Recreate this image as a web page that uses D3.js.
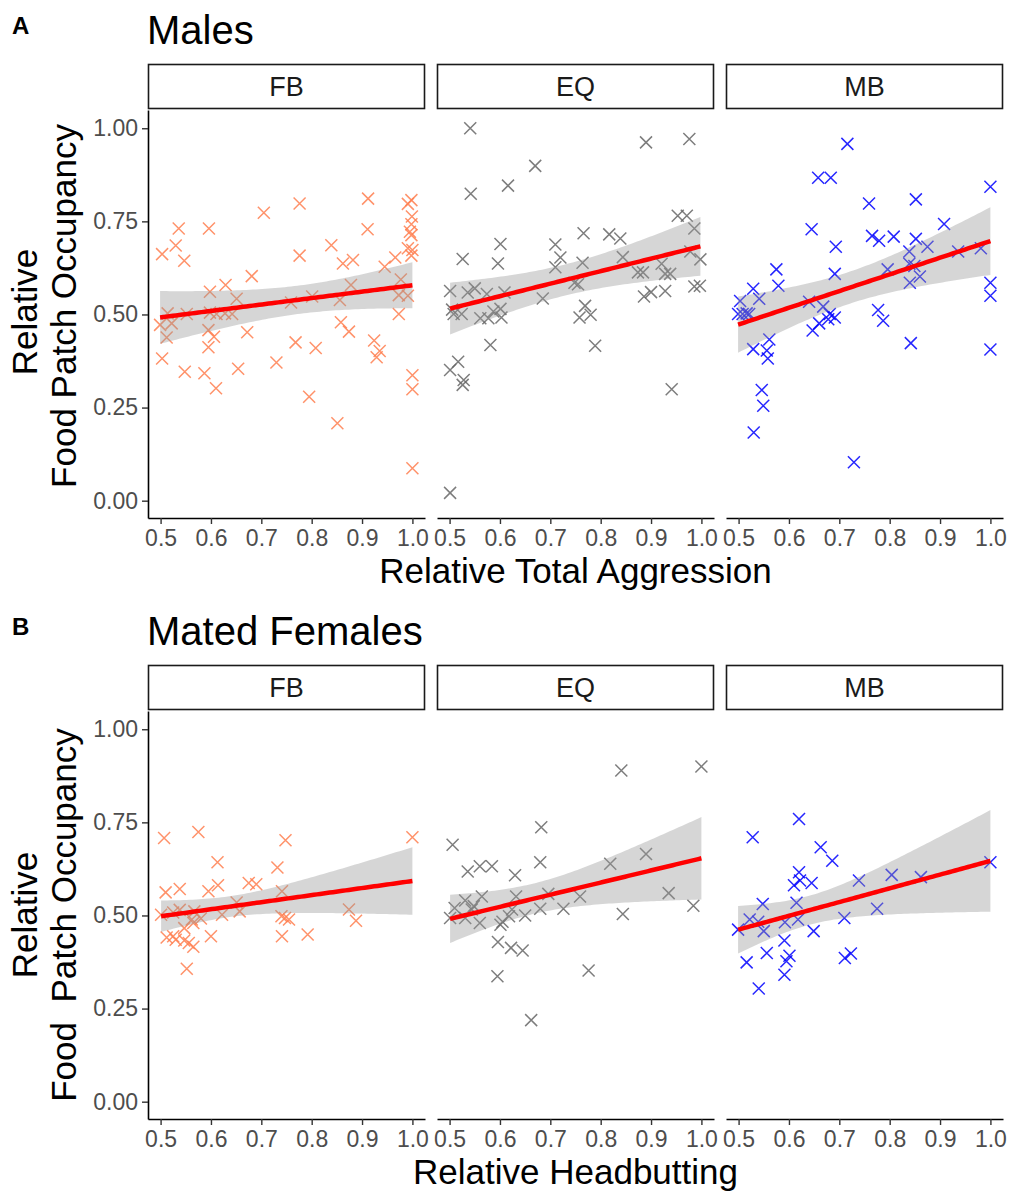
<!DOCTYPE html>
<html>
<head>
<meta charset="utf-8">
<script src="https://cdn.jsdelivr.net/npm/d3@7"></script>
<style>
  body { margin: 0; background: #fff; }
  svg { display: block; }
</style>
</head>
<body>
<div id="chart"></div>
<script>
// facet labels and colours
const groups = ['FB', 'EQ', 'MB'];
const groupColors = ['#FF7F50', '#666666', '#0000FF'];
const xTicks = [0.5, 0.6, 0.7, 0.8, 0.9, 1.0];
const yTicks = [0, 0.25, 0.5, 0.75, 1.0];

// Males, relative total aggression vs relative food patch occupancy
const malesFB = [
  [0.503, 0.662], [0.530, 0.685], [0.536, 0.731], [0.596, 0.731], [0.547, 0.644], [0.705, 0.773],
  [0.776, 0.798], [0.912, 0.811], [0.911, 0.729], [0.776, 0.658], [0.839, 0.686], [0.681, 0.603],
  [0.629, 0.579], [0.598, 0.561], [0.651, 0.542], [0.862, 0.637], [0.882, 0.646], [0.878, 0.579],
  [0.945, 0.628], [0.966, 0.653], [0.977, 0.594], [0.973, 0.501], [0.973, 0.552], [0.991, 0.550],
  [0.998, 0.807], [0.991, 0.797], [0.999, 0.763], [0.998, 0.742], [0.995, 0.722], [0.998, 0.713],
  [0.991, 0.678], [1.000, 0.673], [0.998, 0.658], [1.000, 0.337], [1.000, 0.299], [1.000, 0.087],
  [0.851, 0.208], [0.795, 0.279], [0.730, 0.371], [0.654, 0.354], [0.610, 0.302], [0.587, 0.342],
  [0.548, 0.346], [0.503, 0.382], [0.512, 0.438], [0.499, 0.472], [0.514, 0.503], [0.522, 0.476],
  [0.552, 0.501], [0.595, 0.458], [0.606, 0.440], [0.595, 0.412], [0.611, 0.501], [0.628, 0.503],
  [0.642, 0.501], [0.672, 0.452], [0.768, 0.425], [0.808, 0.410], [0.759, 0.532], [0.801, 0.548],
  [0.856, 0.539], [0.858, 0.479], [0.874, 0.454], [0.924, 0.430], [0.935, 0.402], [0.929, 0.385],
  [0.598, 0.505]
];
const malesEQ = [
  [0.541, 1.000], [0.890, 0.962], [0.976, 0.971], [0.670, 0.899], [0.616, 0.846], [0.542, 0.824],
  [0.953, 0.765], [0.971, 0.765], [0.986, 0.731], [0.766, 0.718], [0.817, 0.715], [0.839, 0.704],
  [0.601, 0.689], [0.710, 0.688], [0.720, 0.653], [0.526, 0.649], [0.596, 0.637], [0.764, 0.639],
  [0.710, 0.627], [0.844, 0.654], [0.921, 0.636], [0.978, 0.669], [0.998, 0.648], [0.874, 0.613],
  [0.884, 0.613], [0.928, 0.609], [0.938, 0.609], [0.748, 0.585], [0.755, 0.581], [0.986, 0.575],
  [0.997, 0.577], [0.886, 0.548], [0.900, 0.560], [0.928, 0.563], [0.685, 0.543], [0.501, 0.563],
  [0.536, 0.559], [0.550, 0.570], [0.574, 0.555], [0.609, 0.559], [0.508, 0.501], [0.524, 0.501],
  [0.561, 0.490], [0.577, 0.490], [0.587, 0.508], [0.601, 0.515], [0.603, 0.492], [0.769, 0.523],
  [0.758, 0.492], [0.780, 0.499], [0.581, 0.418], [0.789, 0.416], [0.517, 0.373], [0.501, 0.351],
  [0.528, 0.324], [0.526, 0.311], [0.941, 0.299], [0.501, 0.021], [0.505, 0.513]
];
const malesMB = [
  [0.716, 0.958], [0.658, 0.867], [0.683, 0.867], [1.000, 0.843], [0.759, 0.798], [0.852, 0.809],
  [0.908, 0.743], [0.645, 0.729], [0.765, 0.711], [0.779, 0.698], [0.808, 0.709], [0.852, 0.703],
  [0.693, 0.682], [0.875, 0.682], [0.936, 0.669], [0.981, 0.678], [0.839, 0.669], [0.839, 0.636],
  [0.849, 0.630], [0.796, 0.621], [0.860, 0.602], [0.840, 0.585], [0.691, 0.609], [0.575, 0.621],
  [0.579, 0.577], [0.529, 0.569], [0.541, 0.542], [0.503, 0.536], [0.499, 0.501], [0.508, 0.501],
  [0.516, 0.503], [0.521, 0.501], [0.640, 0.534], [0.668, 0.521], [0.681, 0.501], [0.691, 0.492],
  [0.678, 0.487], [0.660, 0.476], [0.647, 0.457], [0.777, 0.512], [0.787, 0.483], [0.561, 0.433],
  [0.529, 0.407], [0.556, 0.403], [0.558, 0.382], [0.842, 0.423], [1.000, 0.585], [1.000, 0.550],
  [1.000, 0.406], [0.546, 0.297], [0.549, 0.255], [0.530, 0.183], [0.729, 0.103]
];

// Mated females, relative headbutting vs relative food patch occupancy
const femalesFB = [
  [0.507, 0.708], [0.575, 0.724], [0.748, 0.702], [1.000, 0.710], [0.613, 0.643], [0.732, 0.629],
  [0.510, 0.562], [0.538, 0.571], [0.595, 0.565], [0.614, 0.581], [0.675, 0.587], [0.690, 0.584],
  [0.741, 0.565], [0.651, 0.535], [0.657, 0.511], [0.622, 0.502], [0.501, 0.502], [0.538, 0.515],
  [0.567, 0.511], [0.580, 0.492], [0.565, 0.480], [0.547, 0.466], [0.512, 0.441], [0.525, 0.444],
  [0.530, 0.435], [0.547, 0.433], [0.556, 0.426], [0.565, 0.416], [0.600, 0.444], [0.552, 0.357],
  [0.741, 0.444], [0.792, 0.449], [0.747, 0.493], [0.755, 0.489], [0.874, 0.516], [0.888, 0.486],
  [0.740, 0.498], [0.525, 0.508], [0.562, 0.489]
];
const femalesEQ = [
  [0.841, 0.889], [1.000, 0.900], [0.682, 0.737], [0.506, 0.690], [0.536, 0.618], [0.560, 0.632],
  [0.584, 0.632], [0.630, 0.608], [0.680, 0.643], [0.819, 0.639], [0.890, 0.665], [0.935, 0.560],
  [0.984, 0.526], [0.844, 0.504], [0.759, 0.551], [0.726, 0.518], [0.696, 0.558], [0.680, 0.518],
  [0.650, 0.500], [0.632, 0.551], [0.624, 0.516], [0.618, 0.498], [0.605, 0.483], [0.601, 0.475],
  [0.564, 0.551], [0.531, 0.540], [0.548, 0.525], [0.510, 0.520], [0.501, 0.493], [0.531, 0.493],
  [0.560, 0.480], [0.596, 0.429], [0.622, 0.413], [0.645, 0.406], [0.595, 0.337], [0.776, 0.352],
  [0.662, 0.219], [0.544, 0.516]
];
const femalesMB = [
  [0.620, 0.759], [0.528, 0.710], [0.663, 0.683], [0.686, 0.647], [0.620, 0.616], [0.610, 0.581],
  [0.622, 0.594], [0.645, 0.587], [0.739, 0.594], [0.804, 0.609], [0.862, 0.603], [1.000, 0.643],
  [0.548, 0.531], [0.615, 0.534], [0.775, 0.518], [0.710, 0.493], [0.522, 0.489], [0.539, 0.483],
  [0.499, 0.462], [0.550, 0.458], [0.592, 0.482], [0.618, 0.489], [0.649, 0.458], [0.591, 0.433],
  [0.516, 0.374], [0.556, 0.399], [0.601, 0.392], [0.595, 0.377], [0.591, 0.341], [0.711, 0.386],
  [0.723, 0.398], [0.540, 0.304]
];

const rows = [
  { tag: 'A', title: 'Males', xTitle: 'Relative Total Aggression',
    yTitle: ['Relative', 'Food Patch Occupancy'], yShift: [-2, -8], sets: [malesFB, malesEQ, malesMB] },
  { tag: 'B', title: 'Mated Females', xTitle: 'Relative Headbutting',
    yTitle: ['Relative', 'Food\u00A0\u00A0Patch Occupancy'], yShift: [0, 0], sets: [femalesFB, femalesEQ, femalesMB] }
];

const width = 1013, height = 1191;
const font = '"Liberation Sans", Arial, Helvetica, sans-serif';
const panelLeft = [148, 437, 726];
const panelW = 277;
const rowShift = [0, 601];

const svg = d3.select('#chart').append('svg')
  .attr('width', width)
  .attr('height', height)
  .attr('font-family', font);

// t quantile (97.5%) via Cornish-Fisher expansion
function tQuant(df) {
  const z = 1.959964;
  const g1 = (Math.pow(z, 3) + z) / 4;
  const g2 = (5 * Math.pow(z, 5) + 16 * Math.pow(z, 3) + 3 * z) / 96;
  const g3 = (3 * Math.pow(z, 7) + 19 * Math.pow(z, 5) + 17 * Math.pow(z, 3) - 15 * z) / 384;
  return z + g1 / df + g2 / (df * df) + g3 / (df * df * df);
}

// linear fit with 95% confidence band, like geom_smooth(method = 'lm')
function lmFit(pts) {
  const n = pts.length;
  const mx = d3.mean(pts, d => d[0]);
  const my = d3.mean(pts, d => d[1]);
  let sxx = 0, sxy = 0;
  pts.forEach(d => { sxx += (d[0] - mx) ** 2; sxy += (d[0] - mx) * (d[1] - my); });
  const b = sxy / sxx;
  const a = my - b * mx;
  let sse = 0;
  pts.forEach(d => { sse += (d[1] - a - b * d[0]) ** 2; });
  const s = Math.sqrt(sse / (n - 2));
  const t = tQuant(n - 2);
  const [lo, hi] = d3.extent(pts, d => d[0]);
  return d3.range(80).map(i => {
    const x = lo + (hi - lo) * i / 79;
    const fit = a + b * x;
    const se = s * Math.sqrt(1 / n + (x - mx) ** 2 / sxx);
    return { x: x, fit: fit, lo: fit - t * se, hi: fit + t * se };
  });
}

rows.forEach((row, r) => {
  const dy = rowShift[r];
  const panelTop = 110 + dy;
  const panelBottom = 518 + dy;

  svg.append('text')
    .attr('x', 12).attr('y', 34 + dy)
    .attr('font-size', 24).attr('font-weight', 'bold')
    .text(row.tag);

  svg.append('text')
    .attr('x', 147).attr('y', 44 + dy)
    .attr('font-size', 40)
    .text(row.title);

  const yScale = d3.scaleLinear()
    .domain([-0.0465, 1.049])
    .range([panelBottom, panelTop]);

  // y title, two lines centred on panel
  const yMid = (panelTop + panelBottom) / 2;
  row.yTitle.forEach((line, i) => {
    svg.append('text')
      .attr('transform', 'translate(' + (37 + i * 39) + ',' + (yMid + row.yShift[i]) + ') rotate(-90)')
      .attr('text-anchor', 'middle')
      .attr('font-size', 35)
      .text(line);
  });

  svg.append('text')
    .attr('x', (panelLeft[0] + panelLeft[2] + panelW) / 2)
    .attr('y', 583 + dy)
    .attr('text-anchor', 'middle')
    .attr('font-size', 35)
    .text(row.xTitle);

  groups.forEach((grp, g) => {
    const left = panelLeft[g];
    const pts = row.sets[g];

    const xScale = d3.scaleLinear()
      .domain([0.475, 1.025])
      .range([left, left + panelW]);

    // strip
    svg.append('rect')
      .attr('x', left + 0.5).attr('y', 64.5 + dy)
      .attr('width', panelW - 1).attr('height', 44)
      .attr('fill', 'white')
      .attr('stroke', '#1a1a1a')
      .attr('stroke-width', 1.6);
    svg.append('text')
      .attr('x', left + panelW / 2).attr('y', 96 + dy)
      .attr('text-anchor', 'middle')
      .attr('font-size', 27)
      .attr('fill', '#1a1a1a')
      .text(grp);

    const p = svg.append('g');

    // points as "x" marks
    const s = 6;
    p.selectAll('path.pt')
      .data(pts)
      .enter().append('path')
      .attr('class', 'pt')
      .attr('d', d => {
        const cx = xScale(d[0]), cy = yScale(d[1]);
        return 'M' + (cx - s) + ',' + (cy - s) + 'L' + (cx + s) + ',' + (cy + s) +
          'M' + (cx - s) + ',' + (cy + s) + 'L' + (cx + s) + ',' + (cy - s);
      })
      .attr('stroke', groupColors[g])
      .attr('stroke-width', 1.5)
      .attr('stroke-opacity', 0.85)
      .attr('fill', 'none');

    const fit = lmFit(pts);

    const band = d3.area()
      .x(d => xScale(d.x))
      .y0(d => yScale(d.lo))
      .y1(d => yScale(d.hi));
    p.append('path')
      .datum(fit)
      .attr('d', band)
      .attr('fill', '#999999')
      .attr('fill-opacity', 0.4);

    const line = d3.line()
      .x(d => xScale(d.x))
      .y(d => yScale(d.fit));
    p.append('path')
      .datum(fit)
      .attr('d', line)
      .attr('fill', 'none')
      .attr('stroke', '#FF0000')
      .attr('stroke-width', 4.5);

    // x axis
    const xAxis = svg.append('g')
      .attr('transform', 'translate(0,' + panelBottom + ')')
      .call(d3.axisBottom(xScale)
        .tickValues(xTicks)
        .tickFormat(d3.format('.1f'))
        .tickSize(6)
        .tickSizeOuter(0)
        .tickPadding(6));
    xAxis.select('.domain').attr('stroke', '#000').attr('stroke-width', 1.6);
    xAxis.selectAll('.tick line').attr('stroke', '#333').attr('stroke-width', 1.4);
    xAxis.selectAll('.tick text')
      .attr('font-size', 23)
      .attr('font-family', font)
      .attr('fill', '#4d4d4d');

    if (g === 0) {
      const yAxis = svg.append('g')
        .attr('transform', 'translate(' + left + ',0)')
        .call(d3.axisLeft(yScale)
          .tickValues(yTicks)
          .tickFormat(d3.format('.2f'))
          .tickSize(6)
          .tickSizeOuter(0)
          .tickPadding(4));
      yAxis.select('.domain').attr('stroke', '#000').attr('stroke-width', 1.6);
      yAxis.selectAll('.tick line').attr('stroke', '#333').attr('stroke-width', 1.4);
      yAxis.selectAll('.tick text')
        .attr('font-size', 23)
        .attr('font-family', font)
        .attr('fill', '#4d4d4d');
    }
  });
});
</script>
</body>
</html>
